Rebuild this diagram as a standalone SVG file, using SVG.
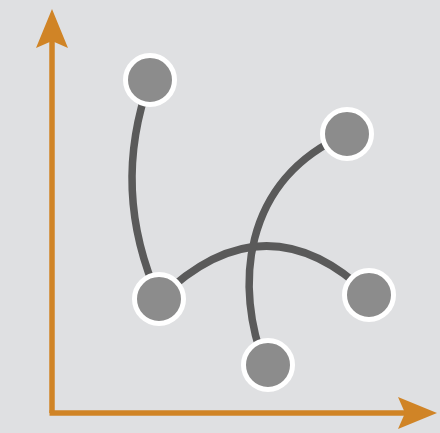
<svg xmlns="http://www.w3.org/2000/svg" width="440" height="433" viewBox="0 0 440 433">
<style>
.edge{fill:none;stroke:#5a5a5a;stroke-width:7.5;stroke-linecap:round}
.node{fill:#8c8c8c;stroke:#ffffff;stroke-width:5}
.axis{fill:none;stroke:#d08426;stroke-width:5.5}
.head{fill:#d08426}
</style>
<rect width="440" height="433" fill="#dfe0e2"/>
<g id="axes">
<path class="axis" d="M52,413 V40"/>
<path class="axis" d="M49.5,413 H405"/>
<path class="head" d="M52,9 L68,48 L52,41 L36,48 Z"/>
<path class="head" d="M437,413 L398,397 L405,413 L398,429 Z"/>
</g>
<g id="connectors">
<path class="edge" d="M150,80 Q110,190 159,299"/>
<path class="edge" d="M159,299 Q265,195 369,295"/>
<path class="edge" d="M347,134 C240,180 235,290 265,365"/>
</g>
<g id="n1"><circle class="node" cx="150" cy="80" r="24.5"/></g>
<g id="n2"><circle class="node" cx="159" cy="299" r="24.5"/></g>
<g id="n3"><circle class="node" cx="268" cy="365" r="24.5"/></g>
<g id="n4"><circle class="node" cx="347" cy="134" r="24.5"/></g>
<g id="n5"><circle class="node" cx="369" cy="295" r="24.5"/></g>
</svg>
